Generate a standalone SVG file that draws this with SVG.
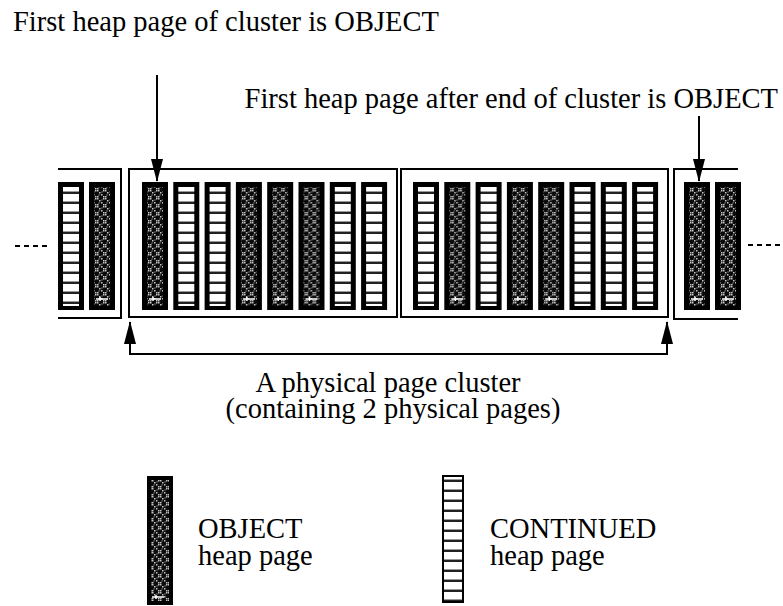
<svg xmlns="http://www.w3.org/2000/svg" xmlns:xlink="http://www.w3.org/1999/xlink" width="783" height="606" viewBox="0 0 783 606">
<style>
text{font-family:"Liberation Serif","Times New Roman",serif;font-size:28.5px;fill:#000}
.box{fill:none;stroke:#000;stroke-width:2}
.conn{fill:none;stroke:#000;stroke-width:2}
.dash{stroke:#000;stroke-width:2;stroke-dasharray:5 4}
</style>
<defs>
<pattern id="obj" width="8" height="8" patternUnits="userSpaceOnUse">
<rect width="8" height="8" fill="#0a0a0a"/>
<g fill="#c8c8c8">
<rect x="0" y="0" width="1.5" height="1.5"/><rect x="2" y="2" width="1.5" height="1.5"/><rect x="4" y="4" width="1.5" height="1.5"/><rect x="6" y="6" width="1.5" height="1.5"/>
<rect x="6" y="0" width="1.5" height="1.5"/><rect x="0" y="6" width="1.5" height="1.5"/><rect x="4.5" y="1.5" width="1" height="1"/><rect x="1.5" y="4.5" width="1" height="1"/>
</g>
</pattern>
<pattern id="cont" width="10" height="10" patternUnits="userSpaceOnUse" y="3">
<rect width="10" height="10" fill="#fff"/>
<rect y="6" width="10" height="1" fill="#999"/>
<rect y="7" width="10" height="2" fill="#222"/>
</pattern>
<g id="colO">
<rect width="26" height="128" fill="#000"/>
<rect x="5" y="5" width="16" height="119" fill="url(#obj)"/>
<path d="M7 117h12M11 115v4" stroke="#fff" stroke-width="1.5" fill="none"/>
</g>
<g id="colC">
<rect width="26" height="128" fill="#000"/>
<rect x="5" y="5" width="16" height="119" fill="url(#cont)"/>
</g>
<marker id="ah" markerWidth="24" markerHeight="12" refX="22" refY="6" orient="auto-start-reverse" markerUnits="userSpaceOnUse">
<path d="M0,0 L23,6 L0,12 z" fill="#000"/>
</marker>
</defs>

<g id="label-first">
<text x="13" y="31">First heap page of cluster is OBJECT</text>
</g>
<g id="label-after">
<text x="778" y="108" text-anchor="end">First heap page after end of cluster is OBJECT</text>
</g>

<g id="prev-page">
<path class="box" d="M58 169H121V318H58"/>
<use xlink:href="#colC" x="58" y="182"/>
<use xlink:href="#colO" x="89" y="182"/>
</g>

<g id="physical-page-1">
<rect class="box" x="129" y="169" width="268" height="148"/>
<use xlink:href="#colO" x="142" y="182"/>
<use xlink:href="#colC" x="173.3" y="182"/>
<use xlink:href="#colC" x="204.6" y="182"/>
<use xlink:href="#colO" x="235.9" y="182"/>
<use xlink:href="#colO" x="267.2" y="182"/>
<use xlink:href="#colO" x="298.5" y="182"/>
<use xlink:href="#colC" x="329.8" y="182"/>
<use xlink:href="#colC" x="361.1" y="182"/>
</g>

<g id="physical-page-2">
<rect class="box" x="401" y="169" width="267" height="148"/>
<use xlink:href="#colC" x="413" y="182"/>
<use xlink:href="#colO" x="444.3" y="182"/>
<use xlink:href="#colC" x="475.6" y="182"/>
<use xlink:href="#colO" x="506.9" y="182"/>
<use xlink:href="#colO" x="538.2" y="182"/>
<use xlink:href="#colC" x="569.5" y="182"/>
<use xlink:href="#colC" x="600.8" y="182"/>
<use xlink:href="#colC" x="632.1" y="182"/>
</g>

<g id="next-page">
<path class="box" d="M738 169H674V319H738"/>
<use xlink:href="#colO" x="684" y="182"/>
<use xlink:href="#colO" x="715" y="182"/>
</g>

<g id="ellipses">
<line class="dash" x1="15" y1="246" x2="47" y2="246"/>
<line class="dash" x1="748" y1="245" x2="783" y2="245"/>
</g>

<g id="connectors">
<path class="conn" d="M157 75V181" marker-end="url(#ah)"/>
<path class="conn" d="M699 116V181" marker-end="url(#ah)"/>
<path class="conn" d="M130 322V354H667V322" marker-start="url(#ah)" marker-end="url(#ah)"/>
</g>

<g id="label-cluster">
<text x="388" y="392" text-anchor="middle">A physical page cluster</text>
<text x="393" y="418" text-anchor="middle">(containing 2 physical pages)</text>
</g>

<g id="legend-object">
<rect x="147" y="476" width="26" height="129" fill="#000"/>
<rect x="151" y="480" width="18" height="121" fill="url(#obj)"/>
<path d="M152 597h12M156 595v4" stroke="#fff" stroke-width="1.5" fill="none"/>
<text x="198" y="538">OBJECT</text>
<text x="198" y="565">heap page</text>
</g>

<g id="legend-continued">
<rect x="443" y="476" width="20" height="126" fill="url(#cont)" stroke="#000" stroke-width="2"/>
<text x="490" y="538">CONTINUED</text>
<text x="490" y="565">heap page</text>
</g>
</svg>
